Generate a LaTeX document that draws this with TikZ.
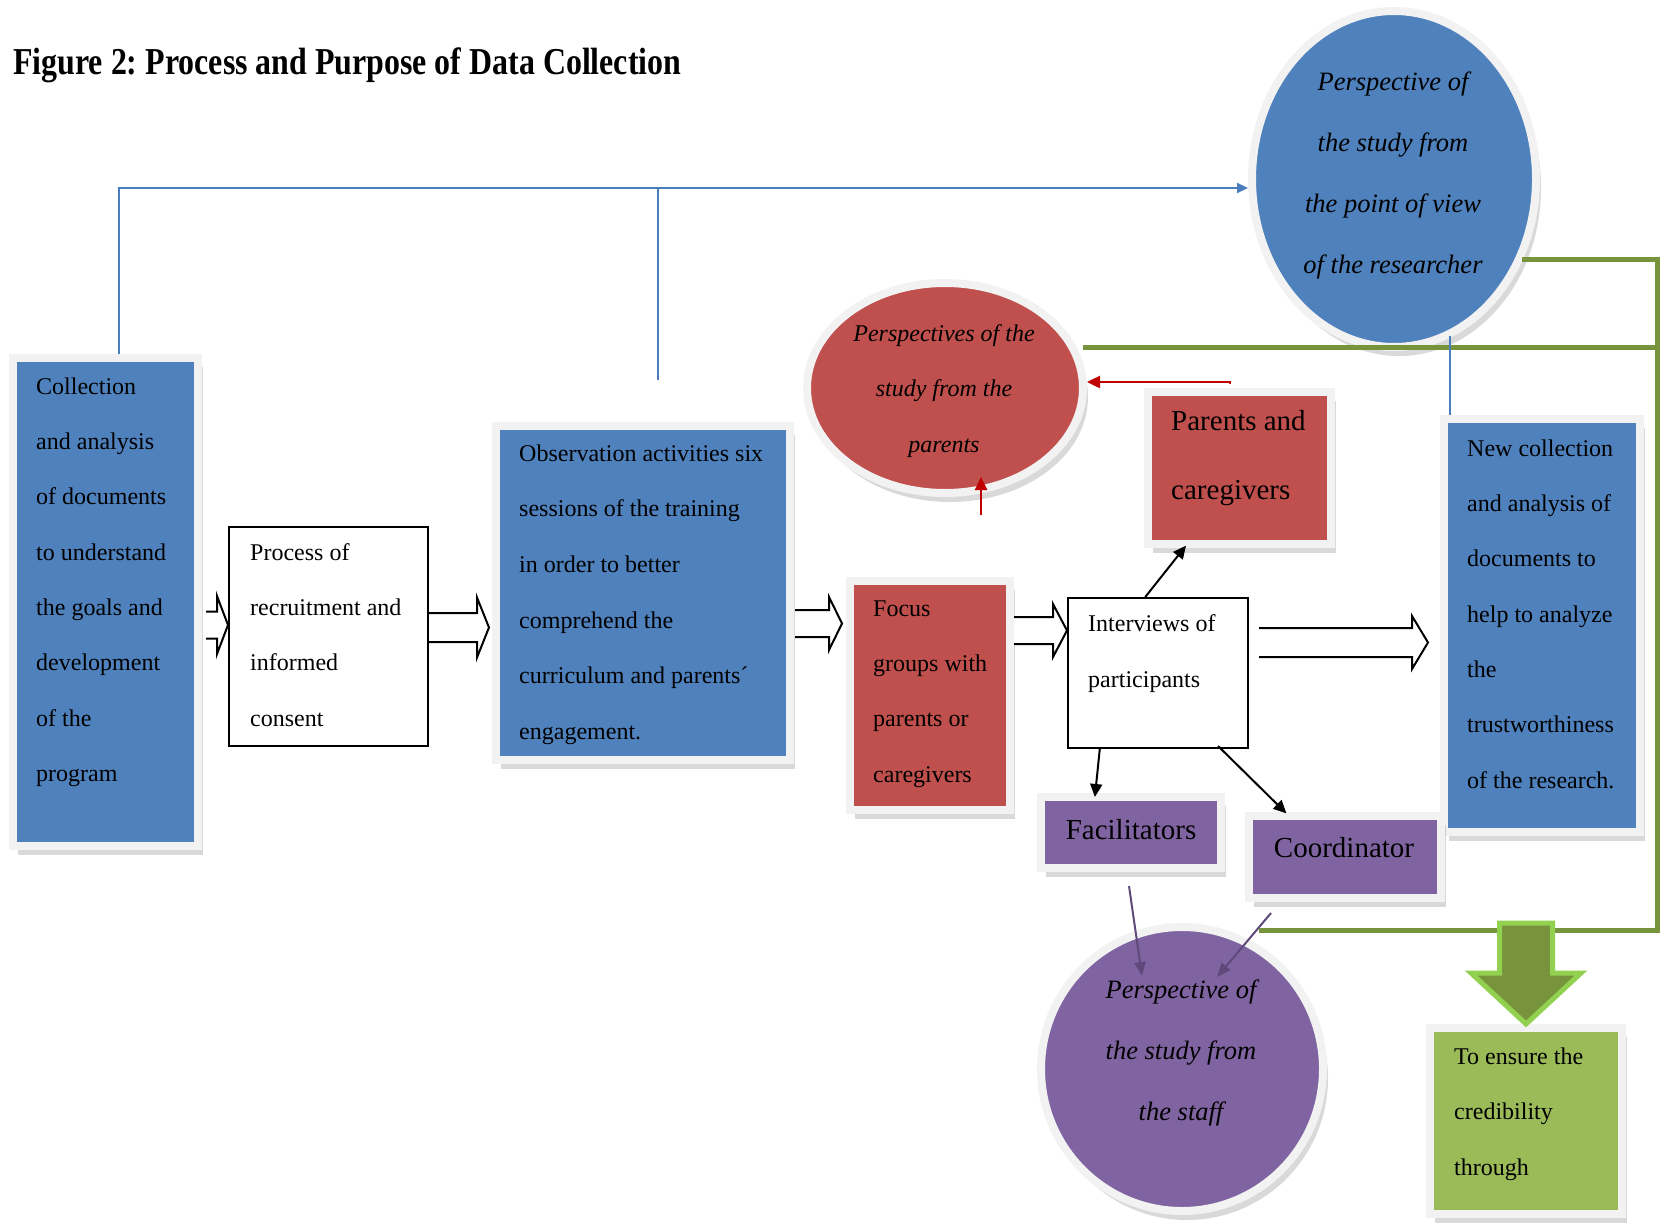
\documentclass[tikz,border=0pt]{standalone}
\usepackage{fontspec}
\usepackage{graphicx}
\setmainfont{Liberation Serif}
\frenchspacing
\usetikzlibrary{shapes.geometric,shadows,arrows.meta,calc}
\definecolor{cblue}{HTML}{4F81BD}
\definecolor{cred}{HTML}{C0504D}
\definecolor{cpurple}{HTML}{8064A2}
\definecolor{cgbox}{HTML}{9BBB59}
\definecolor{cgline}{HTML}{77933C}
\definecolor{cglight}{HTML}{92D050}
\definecolor{cframe}{HTML}{F2F2F2}
\definecolor{cbline}{HTML}{4A7EBB}
\definecolor{crarrow}{HTML}{C00000}
\definecolor{cparrow}{HTML}{5F497A}
\newcommand\topstrut{\rule{0pt}{0.75em}}
% from, to, ycenter, shaft half, head length, head half, start offset, end offset
\newcommand\blockarrow[8]{%
  \path[harrow] let \p1=(#1), \p2=(#2) in
   ({\x1+(#7)},{-(#3-#4)*1pt}) -- ({\x2+(#8)-(#5)},{-(#3-#4)*1pt})
   -- ({\x2+(#8)-(#5)},{-(#3-#6)*1pt}) -- ({\x2+(#8)},{-(#3)*1pt})
   -- ({\x2+(#8)-(#5)},{-(#3+#6)*1pt}) -- ({\x2+(#8)-(#5)},{-(#3+#4)*1pt})
   -- ({\x1+(#7)},{-(#3+#4)*1pt});}
\begin{document}
\begin{tikzpicture}[x=1pt,y=-1pt,
  framed/.style={draw=cframe, line width=8pt, inner sep=0pt,
    drop shadow={shadow xshift=5pt, shadow yshift=-9pt, opacity=0.25, fill=black!60}},
  plainbox/.style={draw=black, line width=2pt, fill=white, inner sep=0pt},
  oval/.style={framed, ellipse},
  txt/.style={inner sep=0pt, align=left, anchor=north west, font=\fontsize{24}{55.3}\selectfont},
  itxt/.style={inner sep=0pt, align=center, anchor=north},
  harrow/.style={draw=black, fill=white, line width=2pt, line join=miter},
  bline/.style={draw=cbline, line width=2pt},
  gline/.style={draw=cgline, line width=5pt},
  garrow/.style={fill=cgline, draw=cglight, line width=5pt, line join=miter},
  rarrow/.style={draw=crarrow, line width=2.5pt, -{Triangle[length=13pt,width=12pt]}},
  karrow/.style={draw=black, line width=2pt, -{Triangle[length=13pt,width=12pt]}},
  parrow/.style={draw=cparrow, line width=2pt, -{Triangle[length=14pt,width=11pt]}},
]
\useasboundingbox (0,0) rectangle (1669,1225);

% title
\node[anchor=base west, inner sep=0pt, font=\bfseries\fontsize{38}{42}\selectfont] (title) at (13,75)
  {\scalebox{0.84}[1]{Figure 2: Process and Purpose of Data Collection}};

% boxes
\node[framed, fill=cblue, minimum width=185, minimum height=488] (coll) at (105.5,602) {};
\node[plainbox, minimum width=199, minimum height=219] (proc) at (328.5,636.5) {};
\node[framed, fill=cblue, minimum width=294, minimum height=334] (obs) at (643,593) {};
\node[framed, fill=cred, minimum width=160, minimum height=229] (focus) at (930,695.5) {};
\node[plainbox, minimum width=180, minimum height=150] (int) at (1158,673) {};
\node[framed, fill=cred, minimum width=183, minimum height=152] (par) at (1239.5,468) {};
\node[framed, fill=cblue, minimum width=196, minimum height=413] (newc) at (1542,625.5) {};
\node[framed, fill=cpurple, minimum width=180, minimum height=71] (fac) at (1131,832.5) {};
\node[framed, fill=cpurple, minimum width=192, minimum height=82] (coord) at (1345,857) {};
\node[framed, fill=cgbox, minimum width=192, minimum height=186] (gbox) at (1526,1121) {};

% ellipses
\node[oval, fill=cred, minimum width=276, minimum height=210] (red) at (945,388) {};
\node[oval, fill=cblue, minimum width=284, minimum height=336] (res) at (1394,179) {};
\node[oval, fill=cpurple, minimum width=282, minimum height=284] (staff) at (1182,1069) {};

% texts
\node[txt] (tcoll) at (36,376) {\topstrut Collection\\and analysis\\of documents\\to understand\\the goals and\\development\\of the\\program};
\node[txt] (tproc) at (250,542) {\topstrut Process of\\recruitment and\\informed\\consent};
\node[txt, font=\fontsize{24}{55.6}\selectfont] (tobs) at (519,443) {\topstrut Observation activities six\\sessions of the training\\in order to better\\comprehend the\\curriculum and parents´\\engagement.};
\node[txt] (tfocus) at (873,598) {\topstrut Focus\\groups with\\parents or\\caregivers};
\node[txt, font=\fontsize{24}{56}\selectfont] (tint) at (1088,613) {\topstrut Interviews of\\participants};
\node[txt, font=\fontsize{29}{69}\selectfont] (tpar) at (1171,409) {\topstrut Parents and\\caregivers};
\node[txt] (tnewc) at (1467,438) {\topstrut New collection\\and analysis of\\documents to\\help to analyze\\the\\trustworthiness\\of the research.};
\node[txt, font=\fontsize{24}{55.5}\selectfont] (tgbox) at (1454,1046) {\topstrut To ensure the\\credibility\\through};
\node[anchor=base, inner sep=0pt, font=\fontsize{29}{34}\selectfont] (tfac) at (1131,839) {Facilitators};
\node[anchor=base, inner sep=0pt, font=\fontsize{29}{34}\selectfont] (tcoord) at (1344,857) {Coordinator};
\node[itxt, font=\itshape\fontsize{24}{55.5}\selectfont] (tred) at (944,323) {\topstrut Perspectives of the\\study from the\\parents};
\node[itxt, font=\itshape\fontsize{26.5}{61}\selectfont] (tres) at (1393,70) {\topstrut Perspective of\\the study from\\the point of view\\of the researcher};
\node[itxt, font=\itshape\fontsize{26.5}{61}\selectfont] (tstaff) at (1181,978) {\topstrut Perspective of\\the study from\\the staff};

% blue lines
\coordinate (b1) at (119,188);
\coordinate (b2) at (658,380);
\coordinate (b3) at (1450,336);
\draw[bline, -{Triangle[length=11pt,width=10pt]}] (coll.north -| b1) -- (b1) -- (b1 -| res.west);
\draw[bline] (b2) -- (b2 |- b1);

% green lines
\coordinate (g1) at (1522,259);
\coordinate (gc) at (1657,600);
\coordinate (gb) at (1259,930);
\coordinate (g2) at (1083,347);
\draw[gline] (g1) -| (gc) |- (gb);
\draw[gline] (g2) -- (g2 -| gc);
\draw[bline] (b3) -- (b3 |- newc.north);
\draw[garrow] (gbox.north) -- ++(-55,-51) -- ++(28.5,0) -- ++(0,-50) -- ++(53,0) -- ++(0,50) -- ++(28.5,0) -- cycle;

% block arrows
\blockarrow{coll.east}{proc.west}{625}{13.5}{11}{29}{4}{0}
\blockarrow{proc.east}{obs.west}{627.5}{14.5}{12}{30}{0}{-3}
\blockarrow{obs.east}{focus.west}{623.5}{13.5}{13}{26.5}{1}{-4}
\blockarrow{focus.east}{int.west}{630.5}{13.5}{14}{26.5}{0}{0}
\blockarrow{int.east}{newc.west}{642.5}{14.5}{16}{26.5}{10}{-12}

% red arrows
\coordinate (rA) at (981,515);
\coordinate (rB) at (981,477);
\draw[rarrow] (rA) -- (rB);
\coordinate (r3) at (1230,382);
\draw[rarrow, shorten <=4pt] (r3 |- par.north) -- (r3) -- (r3 -| red.east);

% black arrows
\draw[karrow, shorten >=-3pt] ($(int.north west)!0.43!(int.north east)$) -- ($(par.south west)!0.21!(par.south east)$);
\draw[karrow, shorten >=-4pt] ($(int.south west)!0.18!(int.south east)$) -- ($(fac.north west)!0.31!(fac.north east)$);
\draw[karrow, shorten >=-2pt] ($(int.south west)!0.83!(int.south east)+(0,-3)$) -- ($(coord.north west)!0.2!(coord.north east)$);

% purple arrows
\coordinate (p1) at (1142,976);
\coordinate (p2) at (1217,977);
\draw[parrow] ($(fac.south)+(-2,14)$) -- (p1);
\draw[parrow] ($(coord.south west)!0.13!(coord.south east)+(0,11)$) -- (p2);
\end{tikzpicture}
\end{document}
